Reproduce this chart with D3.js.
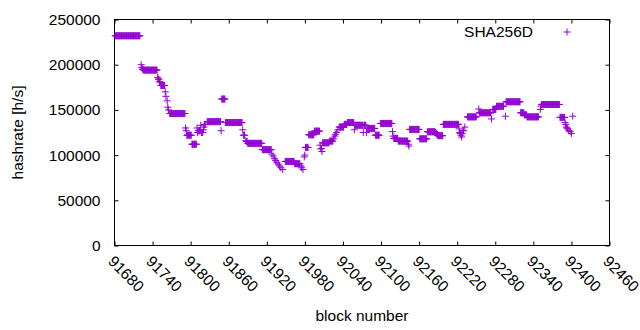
<!DOCTYPE html>
<html>
<head>
<meta charset="utf-8">
<script src="https://cdn.jsdelivr.net/npm/d3@7"></script>
<style>
body { margin: 0; background: #fff; }
text { font-family: "Liberation Sans", Arial, sans-serif; font-size: 15.5px; fill: #000; }
</style>
</head>
<body>
<script>
var xTicks = [91680, 91740, 91800, 91860, 91920, 91980, 92040, 92100, 92160, 92220, 92280, 92340, 92400, 92460];
var yTicks = [0, 50000, 100000, 150000, 200000, 250000];
var seriesName = "SHA256D";

var blockStart = [91681, 91722, 91723, 91724, 91726, 91748, 91749, 91751, 91753, 91760, 91761, 91763, 91764, 91765,
    91767, 91792, 91793, 91794, 91802, 91810, 91811, 91812, 91816, 91817, 91820, 91821, 91822, 91826, 91848, 91849,
    91855, 91882, 91883, 91887, 91888, 91890, 91913, 91928, 91930, 91932, 91934, 91936, 91938, 91940, 91942, 91945,
    91949, 91964, 91974, 91975, 91977, 91979, 91980, 91981, 91986, 91995, 92004, 92005, 92007, 92008, 92019, 92025,
    92027, 92028, 92030, 92032, 92034, 92042, 92047, 92058, 92059, 92072, 92073, 92077, 92078, 92091, 92099, 92118,
    92119, 92120, 92127, 92143, 92144, 92145, 92161, 92173, 92186, 92187, 92188, 92189, 92190, 92198, 92223, 92224,
    92225, 92226, 92227, 92228, 92229, 92232, 92236, 92254, 92255, 92274, 92276, 92282, 92296, 92297, 92320, 92326,
    92330, 92351, 92352, 92353, 92382, 92390, 92391, 92392, 92393, 92394, 92396, 92398, 92400, 92402];
var blockEnd = [91720, 91722, 91723, 91725, 91747, 91748, 91750, 91752, 91759, 91760, 91761, 91763, 91764, 91765,
    91791, 91792, 91793, 91801, 91809, 91810, 91811, 91815, 91816, 91819, 91820, 91821, 91823, 91847, 91848, 91854,
    91881, 91882, 91885, 91887, 91889, 91912, 91927, 91928, 91930, 91932, 91934, 91936, 91938, 91940, 91942, 91945,
    91963, 91972, 91974, 91975, 91977, 91979, 91980, 91985, 91994, 92003, 92004, 92006, 92007, 92018, 92024, 92025,
    92027, 92028, 92030, 92032, 92041, 92046, 92057, 92058, 92071, 92072, 92076, 92077, 92090, 92097, 92117, 92118,
    92119, 92126, 92142, 92143, 92144, 92160, 92172, 92185, 92186, 92187, 92188, 92189, 92197, 92222, 92223, 92224,
    92225, 92226, 92227, 92228, 92230, 92232, 92250, 92254, 92273, 92274, 92281, 92293, 92296, 92319, 92325, 92329,
    92348, 92351, 92352, 92381, 92389, 92390, 92391, 92392, 92393, 92394, 92396, 92398, 92400, 92402];
var hashrate = [232000, 200000, 197000, 195000, 194000, 186000, 184000, 181000, 177000, 170000, 165000, 160000, 153000, 150000,
    146000, 130000, 127000, 122000, 112000, 130000, 125000, 127000, 133000, 125000, 128000, 131000, 134000, 137000, 127000, 162000,
    136000, 128000, 122000, 116000, 115000, 113000, 106000, 101000, 99000, 96000, 94000, 92000, 90000, 88000, 86000, 84000,
    93000, 90500, 88000, 86000, 84000, 98000, 100000, 108500, 122500, 126500, 111000, 107000, 104000, 113600, 115500, 118000,
    121000, 123000, 125000, 128000, 131000, 134000, 136000, 128000, 133000, 125000, 133000, 125000, 129500, 122000, 135000, 126000,
    121000, 118500, 115500, 112000, 110000, 128400, 118000, 125800, 125000, 124000, 123000, 122000, 121500, 134000, 129000, 125000,
    124000, 122000, 120000, 124000, 127000, 131000, 142300, 151000, 146800, 140000, 150500, 154000, 143000, 159000, 146800, 144600,
    142300, 150500, 154200, 156000, 141700, 136000, 134000, 131000, 130000, 129000, 127000, 126000, 124000, 143000];

var data = [];
blockStart.forEach(function(b, i) {
    for (var n = b; n <= blockEnd[i]; n++) data.push({ x: n, y: hashrate[i] });
});

var width = 640, height = 330;
var margin = { top: 19.5, right: 30.5, bottom: 84.5, left: 114.5 };
var color = "#9400d3";
var tick = 4, cross = 3.5;

var svg = d3.select("body").append("svg").attr("width", width).attr("height", height);
svg.append("rect").attr("width", width).attr("height", height).attr("fill", "#fff");

var xScale = d3.scaleLinear().domain([xTicks[0], xTicks[xTicks.length - 1]]).range([margin.left, width - margin.right]);
var yScale = d3.scaleLinear().domain([0, 250000]).range([height - margin.bottom, margin.top]);

// axes, ticks pointing inwards like gnuplot, mirrored on top/right
svg.append("g").attr("transform", "translate(0," + yScale(0) + ")")
    .call(d3.axisBottom(xScale).tickValues(xTicks).tickSizeInner(-tick).tickSizeOuter(0).tickFormat(d3.format("d")))
    .call(g => g.select(".domain").remove())
    .selectAll("text")
    .attr("y", 0).attr("dy", "0.35em")
    .attr("transform", "translate(-4,13) rotate(45)")
    .style("text-anchor", "start");

svg.append("g").attr("transform", "translate(" + margin.left + ",0)")
    .call(d3.axisLeft(yScale).tickValues(yTicks).tickSizeInner(-tick).tickSizeOuter(0).tickPadding(14).tickFormat(d3.format("d")))
    .call(g => g.select(".domain").remove());

svg.append("g").attr("transform", "translate(0," + margin.top + ")")
    .call(d3.axisTop(xScale).tickValues(xTicks).tickSizeInner(-tick).tickSizeOuter(0).tickFormat(""))
    .call(g => g.select(".domain").remove());

svg.append("g").attr("transform", "translate(" + (width - margin.right) + ",0)")
    .call(d3.axisRight(yScale).tickValues(yTicks).tickSizeInner(-tick).tickSizeOuter(0).tickFormat(""))
    .call(g => g.select(".domain").remove());

svg.append("rect")
    .attr("x", margin.left).attr("y", margin.top)
    .attr("width", width - margin.right - margin.left)
    .attr("height", height - margin.bottom - margin.top)
    .attr("fill", "none").attr("stroke", "#000");

function plus(x, y) {
    return "M" + (x - cross) + "," + y + "H" + (x + cross) + "M" + x + "," + (y - cross) + "V" + (y + cross);
}

svg.append("path")
    .attr("d", data.map(d => plus(xScale(d.x), yScale(d.y))).join(""))
    .attr("fill", "none").attr("stroke", color).attr("stroke-width", 1);

// key
svg.append("text").attr("x", 533).attr("y", 32).attr("dy", "0.35em")
    .attr("text-anchor", "end").text(seriesName);
svg.append("path").attr("d", plus(567, 32)).attr("stroke", color).attr("fill", "none");

// axis titles
svg.append("text").attr("transform", "translate(23," + ((margin.top + height - margin.bottom) / 2) + ") rotate(-90)")
    .attr("text-anchor", "middle").text("hashrate [h/s]");
svg.append("text").attr("x", (margin.left + width - margin.right) / 2).attr("y", 321)
    .attr("text-anchor", "middle").text("block number");
</script>
</body>
</html>
